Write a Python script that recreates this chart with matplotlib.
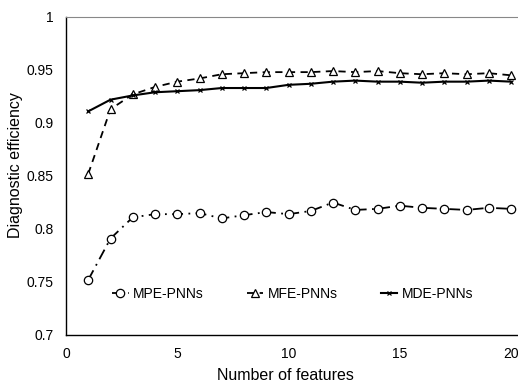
import matplotlib
matplotlib.use("Agg")
import matplotlib.pyplot as plt

plt.rcParams['font.family'] = ['Liberation Sans', 'DejaVu Sans']

features = list(range(1, 21))
mpe = [0.752, 0.791, 0.811, 0.814, 0.814, 0.815, 0.810, 0.813, 0.816, 0.814,
       0.817, 0.825, 0.818, 0.819, 0.822, 0.820, 0.819, 0.818, 0.820, 0.819]
mfe = [0.852, 0.913, 0.927, 0.934, 0.939, 0.942, 0.946, 0.947, 0.948, 0.948,
       0.948, 0.949, 0.948, 0.949, 0.947, 0.946, 0.947, 0.946, 0.947, 0.945]
mde = [0.911, 0.922, 0.926, 0.929, 0.930, 0.931, 0.933, 0.933, 0.933, 0.936,
       0.937, 0.939, 0.940, 0.939, 0.939, 0.938, 0.939, 0.939, 0.940, 0.939]
xticks = [0, 5, 10, 15, 20]
yticks = [0.7, 0.75, 0.8, 0.85, 0.9, 0.95, 1.0]
ytick_labels = ['0.7', '0.75', '0.8', '0.85', '0.9', '0.95', '1']

fig = plt.figure(figsize=(5.18, 3.83), dpi=100)
ax = fig.add_axes([66/518, 1 - 335/383, (518 - 66)/518, (335 - 17)/383])

ax.plot(features, mpe, color='black', lw=1.3, linestyle=(0, (6, 3, 1, 3)),
        marker='o', markersize=6, markerfacecolor='white', markeredgecolor='black',
        markeredgewidth=0.9, label='MPE-PNNs')
ax.plot(features, mfe, color='black', lw=1.3, linestyle=(0, (4, 3)),
        marker='^', markersize=6, markerfacecolor='white', markeredgecolor='black',
        markeredgewidth=0.9, label='MFE-PNNs')
ax.plot(features, mde, color='black', lw=1.5, linestyle='-',
        marker='x', markersize=3.5, markeredgewidth=0.9, label='MDE-PNNs')

ax.set_xlim(0, 20 * (518 - 66) / (511 - 66))
ax.set_ylim(0.7, 1.0)
ax.set_xticks(xticks)
ax.set_yticks(yticks)
ax.set_yticklabels(ytick_labels)
ax.tick_params(length=0, labelsize=10, pad=9)
ax.set_xlabel('Number of features', fontsize=11.5)
ax.set_ylabel('Diagnostic efficiency', fontsize=11.5)
ax.xaxis.set_label_coords(0.485, -0.104)
ax.yaxis.set_label_coords(-0.095, 0.535)

ax.spines['right'].set_visible(False)
ax.spines['top'].set_color('#888888')
for s in ['left', 'bottom']:
    ax.spines[s].set_color('black')
    ax.spines[s].set_linewidth(1.0)

ax.legend(loc='center', bbox_to_anchor=(0.501, 0.129), ncol=3, frameon=False,
          fontsize=10, handlelength=1.2, columnspacing=3.1, handletextpad=0.3,
          borderpad=0, borderaxespad=0)

fig.savefig('out.png', dpi=100)
